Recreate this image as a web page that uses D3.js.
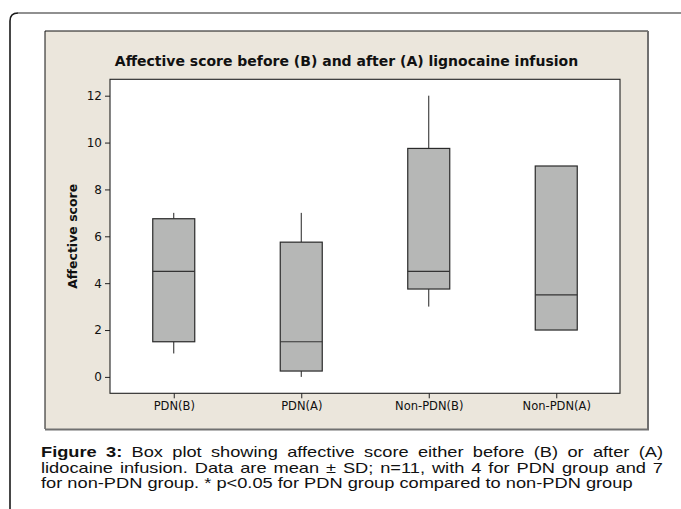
<!DOCTYPE html>
<html>
<head>
<meta charset="utf-8">
<script src="https://cdn.jsdelivr.net/npm/d3@7"></script>
<style>
    body { margin: 0; background: #ffffff; }
    svg { display: block; }
</style>
</head>
<body>
<div id="my_dataviz"></div>
<script>
// Box plot values
var groups = ["PDN(B)", "PDN(A)", "Non-PDN(B)", "Non-PDN(A)"]
var whiskerLow = [1, 0, 3, 2]
var q1 = [1.5, 0.25, 3.75, 2]
var median = [4.5, 1.5, 4.5, 3.5]
var q3 = [6.75, 5.75, 9.75, 9]
var whiskerHigh = [7, 7, 12, 9]
var yTicks = [0, 2, 4, 6, 8, 10, 12]

var titleText = "Affective score before (B) and after (A) lignocaine infusion"
var yLabel = "Affective score"
var captionLines = [
    "Box plot showing affective score either before (B) or after (A)",
    "lidocaine infusion. Data are mean \u00b1 SD; n=11, with 4 for PDN group and 7",
    "for non-PDN group. * p<0.05 for PDN group compared to non-PDN group"
]

var width = 681, height = 509
var plot = { left: 110, right: 620, top: 79.3, bottom: 393.3 }
var boxWidth = 42

var svg = d3.select("#my_dataviz")
    .append("svg")
    .attr("width", width)
    .attr("height", height)

// outer frame with a rounded top-left corner
svg.append("path")
    .attr("d", "M10,509 L10,21 Q10,13 18,13")
    .style("fill", "none")
    .style("stroke", "#1a1a1a")
    .style("stroke-width", 1.6)
svg.append("path")
    .attr("d", "M18,13 L681,13")
    .style("fill", "none")
    .style("stroke", "#6b6b6b")
    .style("stroke-width", 1.4)

// beige chart panel
svg.append("rect")
    .attr("x", 45).attr("y", 31)
    .attr("width", 603).attr("height", 398)
    .style("fill", "#ebe6dc")
svg.append("path")
    .attr("d", "M45,429 L45,31 L648,31")
    .style("fill", "none").style("stroke", "#111").style("stroke-width", 1)
svg.append("path")
    .attr("d", "M648,31 L648,429.5 L45,429.5")
    .style("fill", "none").style("stroke", "#707070").style("stroke-width", 2)

// plot area
svg.append("rect")
    .attr("x", plot.left).attr("y", plot.top)
    .attr("width", plot.right - plot.left).attr("height", plot.bottom - plot.top)
    .style("fill", "#ffffff")

var x = d3.scalePoint()
    .domain(groups)
    .range([plot.left, plot.right])
    .padding(0.5)

var y = d3.scaleLinear()
    .domain([-0.7, 12.7])
    .range([plot.bottom, plot.top])

// axes
var yAxis = svg.append("g")
    .attr("transform", "translate(" + plot.left + ",0)")
    .call(d3.axisLeft(y).tickValues(yTicks).tickSize(5).tickPadding(3))
var xAxis = svg.append("g")
    .attr("transform", "translate(0," + plot.bottom + ")")
    .call(d3.axisBottom(x).tickSize(5).tickPadding(4))

yAxis.select(".domain").remove()
xAxis.select(".domain").remove()
svg.selectAll(".tick line").style("stroke", "#222")
svg.selectAll(".tick text")
    .style("font-family", "DejaVu Sans, Verdana, sans-serif")
    .style("fill", "#111")
yAxis.selectAll(".tick text").style("font-size", "12px")
xAxis.selectAll(".tick text").style("font-size", "11.5px")

// boxes
var box = svg.append("g")
    .selectAll("g")
    .data(groups)
    .enter()
    .append("g")

box.append("line")
    .attr("x1", function (d) { return x(d); })
    .attr("x2", function (d) { return x(d); })
    .attr("y1", function (d, i) { return y(whiskerHigh[i]); })
    .attr("y2", function (d, i) { return y(q3[i]); })
    .style("stroke", "#222")
box.append("line")
    .attr("x1", function (d) { return x(d); })
    .attr("x2", function (d) { return x(d); })
    .attr("y1", function (d, i) { return y(q1[i]); })
    .attr("y2", function (d, i) { return y(whiskerLow[i]); })
    .style("stroke", "#222")
box.append("rect")
    .attr("x", function (d) { return x(d) - boxWidth / 2; })
    .attr("y", function (d, i) { return y(q3[i]); })
    .attr("width", boxWidth)
    .attr("height", function (d, i) { return y(q1[i]) - y(q3[i]); })
    .style("fill", "#b6b7b6")
    .style("stroke", "#2a2a2a")
    .style("stroke-width", 1.2)
box.append("line")
    .attr("x1", function (d) { return x(d) - boxWidth / 2; })
    .attr("x2", function (d) { return x(d) + boxWidth / 2; })
    .attr("y1", function (d, i) { return y(median[i]); })
    .attr("y2", function (d, i) { return y(median[i]); })
    .style("stroke", "#333")
    .style("stroke-width", 1.2)

// plot frame
svg.append("rect")
    .attr("x", plot.left).attr("y", plot.top)
    .attr("width", plot.right - plot.left).attr("height", plot.bottom - plot.top)
    .style("fill", "none")
    .style("stroke", "#222")
    .style("stroke-width", 1.1)

// titles
svg.append("text")
    .attr("x", 346.5)
    .attr("y", 66)
    .attr("text-anchor", "middle")
    .style("font-family", "DejaVu Sans, Verdana, sans-serif")
    .style("font-weight", "bold")
    .style("font-size", "14px")
    .style("fill", "#111")
    .text(titleText)

svg.append("text")
    .attr("transform", "translate(77," + ((plot.top + plot.bottom) / 2) + ") rotate(-90)")
    .attr("text-anchor", "middle")
    .style("font-family", "DejaVu Sans, Verdana, sans-serif")
    .style("font-weight", "bold")
    .style("font-size", "12.5px")
    .style("fill", "#111")
    .text(yLabel)

// caption, a bit stretched sideways like the scanned figure; first two lines justified
var captionLeft = 41, captionRight = 663, stretch = 1.25
var caption = svg.append("g")
    .attr("transform", "translate(" + captionLeft + ",0) scale(" + stretch + ",1)")
captionLines.forEach(function (line, i) {
    var t = caption.append("text")
        .attr("x", 0)
        .attr("y", 457.5 + i * 15.3)
        .style("font-family", "Liberation Sans, Arial, sans-serif")
        .style("font-size", "14.6px")
        .style("fill", "#111")
    if (i === 0) {
        t.append("tspan").style("font-weight", "bold").text("Figure 3:")
        t.append("tspan").text("  " + line)
    } else {
        t.text(line)
    }
    if (i < 2) {
        var len = t.node().getComputedTextLength()
        var gaps = line.split(" ").length - 1 + (i === 0 ? 2 : 0)
        var target = (captionRight - captionLeft) / stretch
        t.style("word-spacing", ((target - len) / gaps) + "px")
    }
})
</script>
</body>
</html>
